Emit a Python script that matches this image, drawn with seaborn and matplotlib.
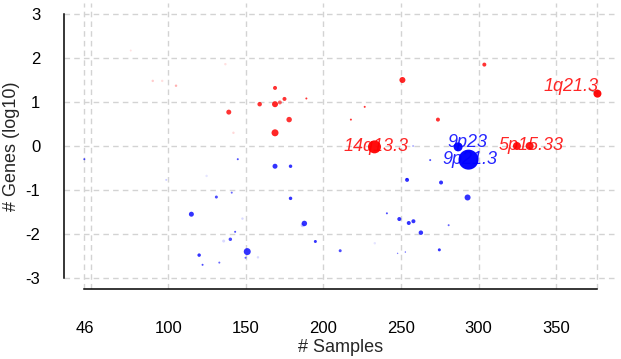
import numpy as np
import pandas as pd
import matplotlib
matplotlib.use("Agg")
import matplotlib.pyplot as plt
import seaborn as sns

# ---- data: amplified regions (red) ----
amp_samples = [75.8, 90.0, 96.1, 105.0, 136.8, 168.8, 174.9, 171.9, 168.8, 158.9,
               189.0, 139.0, 177.9, 168.8, 142.0, 250.9, 303.7, 226.6, 217.7, 273.8,
               232.9, 324.7, 332.9, 376.6]
amp_genes = [2.17, 1.48, 1.48, 1.37, 1.86, 1.32, 1.07, 0.99, 0.95, 0.95,
             1.08, 0.77, 0.60, 0.30, 0.30, 1.50, 1.85, 0.89, 0.60, 0.60,
             -0.02, 0.00, 0.00, 1.19]
amp_weight = [4, 6, 6, 6, 6, 16, 16, 16, 36, 20,
              4, 25, 30, 49, 6, 36, 16, 4, 4, 16,
              169, 64, 64, 64]
amp_opacity = [0.12, 0.2, 0.12, 0.3, 0.12, 0.8, 0.8, 0.6, 0.85, 0.8,
               0.8, 0.8, 0.8, 0.85, 0.15, 0.85, 0.8, 0.8, 0.8, 0.8,
               0.95, 0.9, 0.9, 0.95]

# ---- data: deleted regions (blue) ----
del_samples = [45.9, 144.8, 168.8, 178.8, 124.7, 98.7, 131.0, 140.9, 178.8, 114.9,
               147.8, 187.7, 186.6, 143.1, 140.0, 135.7, 150.9, 149.8, 157.8, 119.9,
               122.1, 132.9, 194.8, 210.8, 253.9, 275.8, 292.9, 240.9, 248.9, 255.0,
               258.0, 262.8, 280.7, 233.1, 247.8, 252.8, 274.7, 257.8, 268.8, 253.7,
               286.8, 293.5]
del_genes = [-0.30, -0.30, -0.46, -0.46, -0.68, -0.77, -1.16, -1.06, -1.19, -1.55,
             -1.65, -1.76, -1.80, -1.95, -2.12, -2.16, -2.40, -2.54, -2.53, -2.48,
             -2.70, -2.65, -2.17, -2.38, -0.77, -0.83, -1.17, -1.53, -1.66, -1.75,
             -1.71, -1.97, -1.80, -2.21, -2.44, -2.41, -2.36, 0.00, -0.32, -0.75,
             -0.02, -0.31]
del_weight = [4, 4, 25, 12, 6, 4, 9, 4, 12, 25,
              6, 30, 16, 4, 12, 9, 49, 4, 6, 12,
              4, 4, 9, 9, 16, 16, 36, 4, 16, 16,
              16, 20, 4, 6, 2, 2, 9, 4, 4, 4,
              81, 400]
del_opacity = [0.7, 0.7, 0.8, 0.8, 0.1, 0.2, 0.7, 0.6, 0.8, 0.8,
               0.15, 0.8, 0.2, 0.7, 0.7, 0.15, 0.8, 0.6, 0.15, 0.8,
               0.7, 0.6, 0.8, 0.7, 0.8, 0.8, 0.8, 0.7, 0.8, 0.8,
               0.8, 0.8, 0.6, 0.1, 0.5, 0.6, 0.8, 0.3, 0.7, 0.5,
               0.95, 0.97]

# ---- labelled cytobands ----
label_names = ["1q21.3", "14q13.3", "9p23", "9p21.3", "5p15.33"]
label_kind = ["amp", "amp", "del", "del", "amp"]
label_index = [23, 20, 40, 41, 22]

x_ticks = [46, 50, 100, 150, 200, 250, 300, 350, 376]
x_ticklabels = ["46", "", "100", "150", "200", "250", "300", "350", ""]
y_ticks = [-3, -2, -1, 0, 1, 2, 3]
y_ticklabels = ["-3", "-2", "-1", "0", "1", "2", "3"]

df = pd.DataFrame({
    "samples": amp_samples + del_samples,
    "genes": amp_genes + del_genes,
    "kind": ["amp"] * len(amp_samples) + ["del"] * len(del_samples),
    "weight": amp_weight + del_weight,
    "opacity": amp_opacity + del_opacity,
})

palette = {"amp": "#FF0000", "del": "#0000FF"}

sns.set_style("white")
plt.rcParams["font.family"] = ["Liberation Sans", "DejaVu Sans"]

fig = plt.figure(figsize=(6.21, 3.59), dpi=100)
ax = fig.add_axes([64 / 621, 1 - 289 / 359, (617 - 64) / 621, (289 - 3) / 359])

ax.set_xlim(32.8, 389.2)
ax.set_ylim(-3.25, 3.25)

# grid
for xv in x_ticks:
    ax.axvline(xv, color="#D3D3D3", lw=1, ls=(0, (4, 3)), zorder=0)
for yv in y_ticks:
    ax.axhline(yv, color="#D3D3D3", lw=1, ls=(0, (4, 3)), zorder=0)

sns.scatterplot(data=df, x="samples", y="genes", hue="kind", palette=palette,
                size="weight", sizes=(0, 400 * 0.5184), size_norm=(0, 400),
                linewidth=0, legend=False, ax=ax, zorder=3)
coll = ax.collections[-1]
fc = coll.get_facecolors()
fc[:, 3] = df["opacity"].values
coll.set_facecolors(fc)

# labels
offsets = {"1q21.3": (-19, 5), "14q13.3": (1, 0), "9p23": (7, 3),
           "9p21.3": (1, 0), "5p15.33": (1, 0)}
for name, kind, idx in zip(label_names, label_kind, label_index):
    if kind == "amp":
        px, py = amp_samples[idx], amp_genes[idx]
    else:
        px, py = del_samples[idx], del_genes[idx]
    color = palette[kind]
    if name == "1q21.3":
        ax.annotate("", xy=(px, py), xytext=(-6, 3), textcoords="offset points",
                    arrowprops=dict(arrowstyle="-", color="#999999", lw=0.8,
                                    shrinkA=0, shrinkB=0), zorder=2)
    ax.annotate(name, xy=(px, py), xytext=offsets[name], textcoords="offset points",
                ha="center", va="center", fontsize=13, fontstyle="italic",
                color=color, alpha=0.85, zorder=4)

# axes styling (base-R look)
for side in ["top", "right"]:
    ax.spines[side].set_visible(False)
ax.spines["left"].set_bounds(-3, 3)
ax.spines["bottom"].set_bounds(46, 376)
for side in ["left", "bottom"]:
    ax.spines[side].set_linewidth(1.1)
    ax.spines[side].set_color("black")

ax.set_xticks(x_ticks)
ax.set_xticklabels(x_ticklabels)
ax.set_yticks(y_ticks)
ax.set_yticklabels(y_ticklabels)
ax.tick_params(axis="both", direction="out", length=7.5, width=1.1, labelsize=12,
               color="black", labelcolor="black")
ax.tick_params(axis="x", pad=15.5)
ax.tick_params(axis="y", pad=9.5)

ax.set_xlabel("# Samples", fontsize=13, labelpad=2)
ax.set_ylabel("# Genes (log10)", fontsize=13, labelpad=4)

fig.savefig("out.png", dpi=100)
